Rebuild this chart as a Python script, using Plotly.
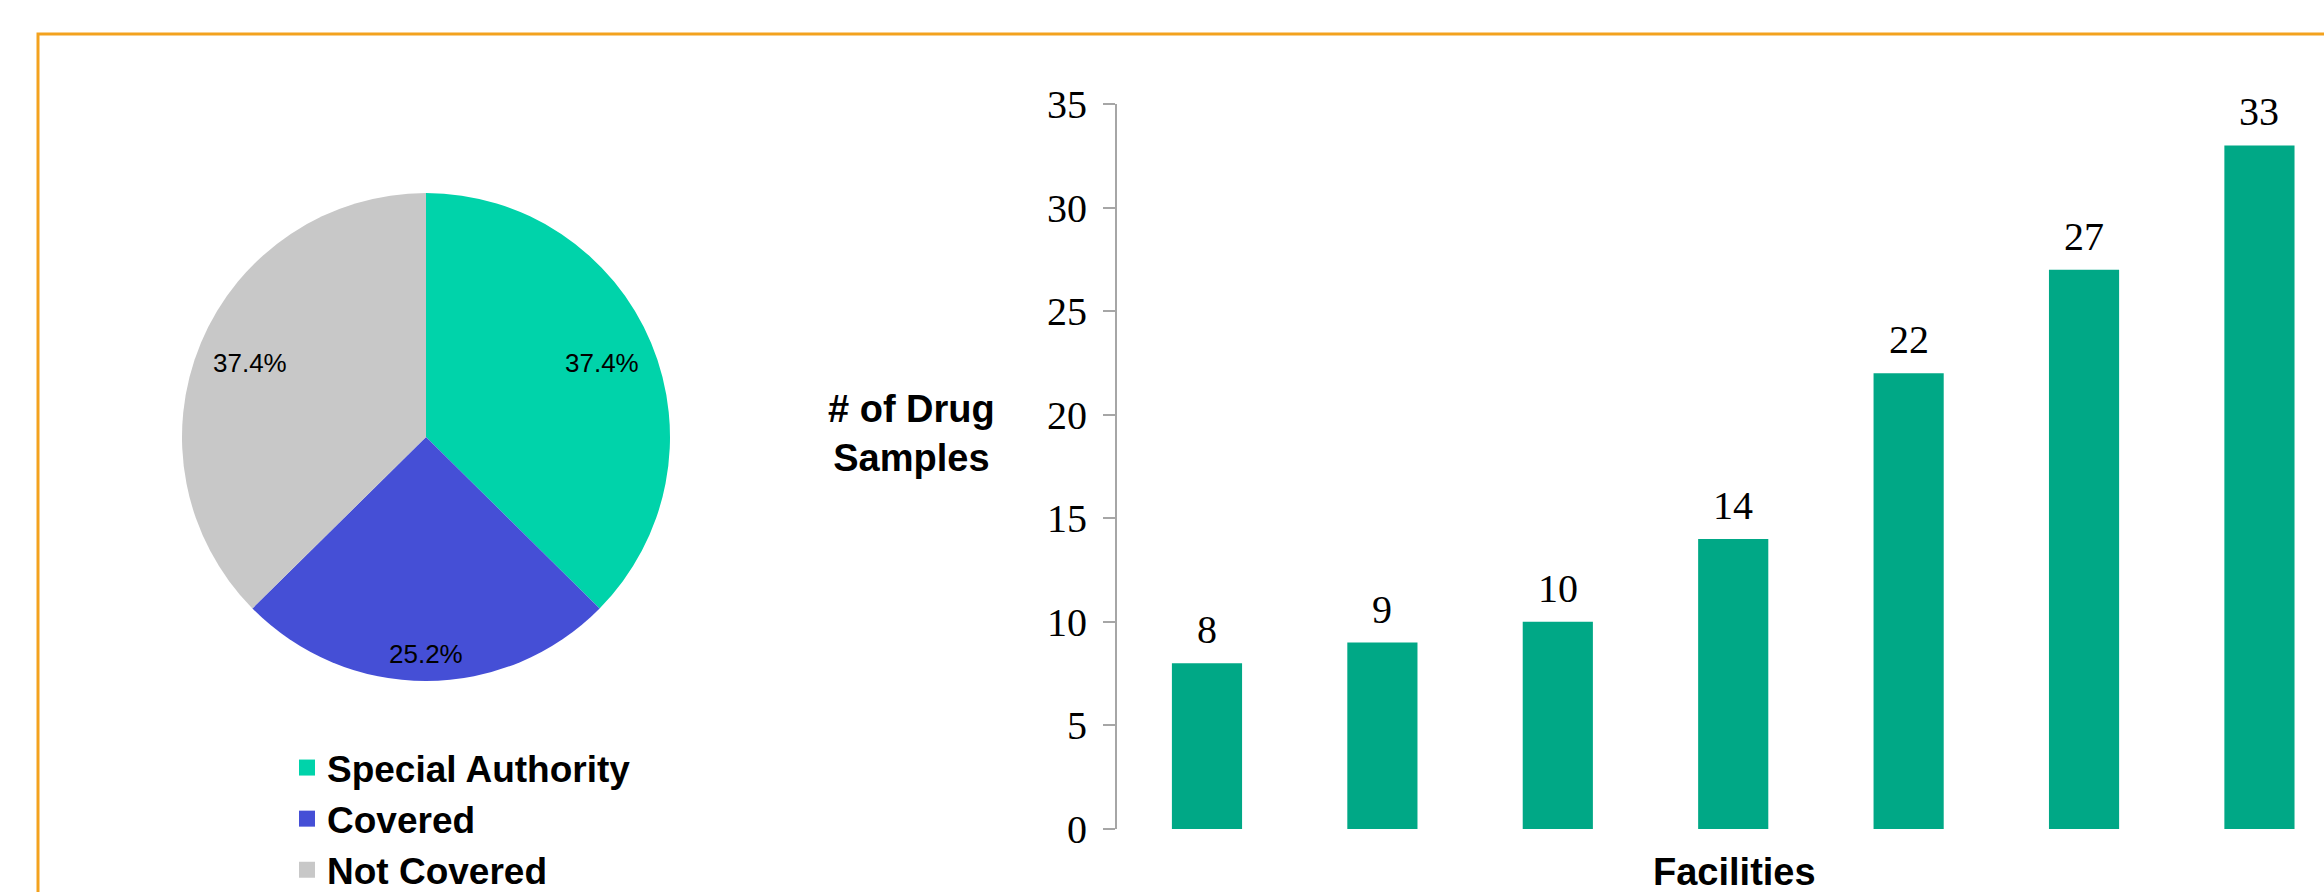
import math
import plotly.graph_objects as go

W, H = 2324, 892

# ---- data ----
pie_labels = ["Special Authority", "Covered", "Not Covered"]
pie_values = [37.4, 25.2, 37.4]
pie_colors = ["#00D3AA", "#454FD6", "#C8C8C8"]

facilities = ["F1", "F2", "F3", "F4", "F5", "F6", "F7"]
samples = [8, 9, 10, 14, 22, 27, 33]
bar_color = "#00A886"

y_title = "# of Drug<br>Samples"
x_title = "Facilities"


def px(x):
    return x / W


def py(y):
    return 1 - y / H


fig = go.Figure()

# pie centred at (426, 437) radius 244
cx, cy, r = 426, 437, 244
fig.add_trace(go.Pie(
    labels=pie_labels, values=pie_values, sort=False, direction="clockwise",
    rotation=0, marker=dict(colors=pie_colors, line=dict(width=0)),
    textinfo="none",
    domain=dict(x=[px(cx - r), px(cx + r)], y=[py(cy + r), py(cy - r)]),
    showlegend=False, hoverinfo="label+percent",
))

# percentage labels placed near the outer edge of each slice
annotations = []
total = sum(pie_values)
cum = 0.0
lab_fs = 26
hw, hh = 2.835 * lab_fs / 2, lab_fs / 2
inset = 14
for v in pie_values:
    mid = (cum + v / 2) / total * 2 * math.pi
    cum += v
    dx, dy = math.sin(mid), -math.cos(mid)
    d = r - inset - (hw * abs(dx) + hh * abs(dy))
    annotations.append(dict(
        text=f"{v / total * 100:.1f}%", x=px(cx + d * dx), y=py(cy + d * dy),
        xref="paper", yref="paper", xanchor="center", yanchor="middle",
        showarrow=False,
        font=dict(family="Liberation Sans, Arial", size=lab_fs, color="black")))

# legend entries (square markers)
for lab, col in zip(pie_labels, pie_colors):
    fig.add_trace(go.Scatter(
        x=[None], y=[None], mode="markers", name="<b>" + lab + "</b>", legendgroup=lab,
        marker=dict(symbol="square", size=19, color=col),
        xaxis="x2", yaxis="y2", showlegend=True,
    ))

fig.add_trace(go.Bar(
    x=facilities, y=samples, marker=dict(color=bar_color, line=dict(width=0)),
    width=0.4, showlegend=False,
))

# value labels above bars
for f, s in zip(facilities, samples):
    annotations.append(dict(
        text=str(s), x=f, y=s, xref="x", yref="y", xanchor="center", yanchor="bottom",
        yshift=9, showarrow=False,
        font=dict(family="Liberation Serif, Times New Roman", size=40, color="black")))

annotations += [
    dict(text="<b>" + y_title + "</b>", x=px(911), y=py(434), xref="paper", yref="paper",
         xanchor="center", yanchor="middle", showarrow=False, align="center",
         font=dict(family="Liberation Sans, Arial", size=38, color="black")),
    dict(text="<b>" + x_title + "</b>", x=px(1734), y=py(872), xref="paper", yref="paper",
         xanchor="center", yanchor="middle", showarrow=False,
         font=dict(family="Liberation Sans, Arial", size=38, color="black")),
]

y0_px, y35_px = 829, 104
fig.update_layout(
    width=W, height=H, autosize=False,
    margin=dict(l=0, r=0, t=0, b=0, autoexpand=False),
    paper_bgcolor="white", plot_bgcolor="white",
    template="none",
    xaxis=dict(domain=[px(1117), 1], range=[-0.513, 6.368], type="category",
               showticklabels=False, showline=False, ticks="", showgrid=False,
               zeroline=False, automargin=False),
    yaxis=dict(domain=[py(y0_px), py(y35_px)], range=[0, 35], dtick=5,
               showline=True, linecolor="#A6A6A6", linewidth=2,
               ticks="outside", ticklen=12, tickwidth=2, tickcolor="#A6A6A6",
               showgrid=False, zeroline=False, automargin=False,
               tickfont=dict(family="Liberation Serif, Times New Roman", size=40, color="black"),
               ticklabelstandoff=8),
    xaxis2=dict(visible=False, domain=[0, 0.01], anchor="y2"),
    yaxis2=dict(visible=False, domain=[0, 0.01], anchor="x2"),
    legend=dict(x=px(287), y=py(737), xanchor="left", yanchor="top",
                font=dict(family="Liberation Sans, Arial", size=37, color="black"),
                bgcolor="rgba(0,0,0,0)", tracegroupgap=4, traceorder="normal",
                itemsizing="trace"),
    showlegend=True,
    annotations=annotations,
    shapes=[
        dict(type="rect", xref="paper", yref="paper", x0=px(38), x1=1.05,
             y0=-0.05, y1=py(34), line=dict(color="#F3A21E", width=3),
             fillcolor="rgba(0,0,0,0)", layer="above"),
    ],
)

fig.write_html("out.html")
